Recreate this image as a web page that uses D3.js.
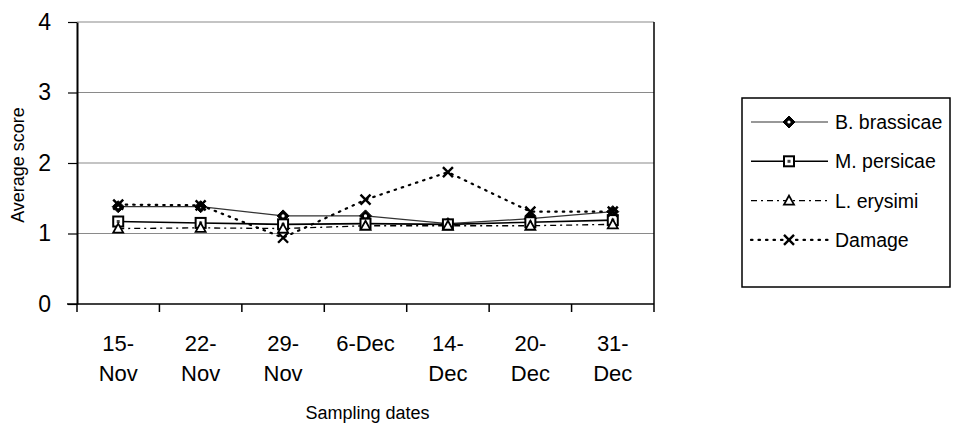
<!DOCTYPE html>
<html>
<head>
<meta charset="utf-8">
<script src="https://cdn.jsdelivr.net/npm/d3@7"></script>
<style>
  html, body { margin: 0; padding: 0; background: #fff; }
  svg { display: block; font-family: "Liberation Sans", Arial, sans-serif; }
</style>
</head>
<body>
<svg id="chart" width="958" height="434"></svg>
<script>
// Sampling dates (two-line labels) and average scores per series
const dates = ["15-Nov", "22-Nov", "29-Nov", "6-Dec", "14-Dec", "20-Dec", "31-Dec"];
const dateLines = [["15-", "Nov"], ["22-", "Nov"], ["29-", "Nov"], ["6-Dec"], ["14-", "Dec"], ["20-", "Dec"], ["31-", "Dec"]];
const brassicae = [1.38, 1.38, 1.25, 1.25, 1.14, 1.21, 1.31];
const persicae  = [1.17, 1.15, 1.13, 1.14, 1.13, 1.16, 1.19];
const erysimi   = [1.07, 1.08, 1.07, 1.11, 1.11, 1.11, 1.13];
const damage    = [1.41, 1.40, 0.94, 1.48, 1.87, 1.31, 1.31];
const yTicks = [0, 1, 2, 3, 4];

const series = [
  { name: "B. brassicae", values: brassicae, marker: "diamond", width: 1.2, dash: null, color: "#333" },
  { name: "M. persicae",  values: persicae,  marker: "square",  width: 1.6, dash: null, color: "#000" },
  { name: "L. erysimi",   values: erysimi,   marker: "triangle", width: 1.3, dash: "6,4,2,4", color: "#000" },
  { name: "Damage",       values: damage,    marker: "x",       width: 2.2, dash: "1.5,6", color: "#000" }
];

const svg = d3.select("#chart");
const plotL = 77, plotR = 654, plotT = 22, plotB = 304;

const x = d3.scaleBand().domain(dates).range([plotL, plotR]);
const y = d3.scaleLinear().domain([0, 4]).range([plotB, plotT]);
const cx = d => x(d) + x.bandwidth() / 2;

// Horizontal gridlines
svg.append("g").selectAll("line").data(yTicks.filter(d => d > 0)).join("line")
  .attr("x1", plotL).attr("x2", plotR)
  .attr("y1", d => y(d)).attr("y2", d => y(d))
  .attr("stroke", "#8a8a8a").attr("stroke-width", 1.2);

// Right border of the plot area
svg.append("line").attr("x1", plotR).attr("x2", plotR).attr("y1", plotT).attr("y2", plotB)
  .attr("stroke", "#000").attr("stroke-width", 1.5);

// Y axis
const yAxis = svg.append("g").attr("transform", `translate(${plotL},0)`)
  .call(d3.axisLeft(y).tickValues(yTicks).tickFormat(d3.format("d"))
    .tickSizeInner(9).tickSizeOuter(0).tickPadding(17));
yAxis.select(".domain").attr("stroke-width", 2);
yAxis.selectAll(".tick line").attr("stroke-width", 1.2);
yAxis.selectAll("text").attr("font-size", 23).attr("fill", "#000");

// X axis (ticks between categories)
const xAxis = svg.append("g").attr("transform", `translate(0,${plotB})`);
xAxis.append("line").attr("x1", plotL - 10).attr("x2", plotR).attr("stroke", "#000").attr("stroke-width", 1.5);
const boundaries = dates.map(d => x(d)).concat([plotR]);
xAxis.selectAll("line.tk").data(boundaries).join("line").attr("class", "tk")
  .attr("x1", d => d).attr("x2", d => d).attr("y1", 0).attr("y2", 8)
  .attr("stroke", "#000").attr("stroke-width", 1.5);
xAxis.selectAll("text.lbl").data(dates).join("text").attr("class", "lbl")
  .attr("text-anchor", "middle").attr("font-size", 22)
  .each(function(d, i) {
    d3.select(this).selectAll("tspan").data(dateLines[i]).join("tspan")
      .attr("x", cx(d))
      .attr("y", (t, j) => 47 + j * 30)
      .text(t => t);
  });

// Axis titles
svg.append("text").attr("x", (plotL + plotR) / 2 + 2).attr("y", 419)
  .attr("text-anchor", "middle").attr("font-size", 18).text("Sampling dates");
svg.append("text").attr("transform", `translate(24,${(plotT + plotB) / 2 + 2}) rotate(-90)`)
  .attr("text-anchor", "middle").attr("font-size", 18).text("Average score");

// Marker drawing
function drawMarker(g, type, mx, my) {
  const s = 5;
  if (type === "diamond") {
    g.append("path").attr("d", `M${mx},${my - s - 1}L${mx + s + 1},${my}L${mx},${my + s + 1}L${mx - s - 1},${my}Z`)
      .attr("fill", "#000").attr("stroke", "#000");
    g.append("circle").attr("cx", mx).attr("cy", my).attr("r", 1.6).attr("fill", "#fff");
  } else if (type === "square") {
    g.append("rect").attr("x", mx - s).attr("y", my - s).attr("width", 2 * s).attr("height", 2 * s)
      .attr("fill", "#fff").attr("stroke", "#000").attr("stroke-width", 2);
    g.append("rect").attr("x", mx - 1.5).attr("y", my - 1.5).attr("width", 3).attr("height", 3).attr("fill", "#444");
  } else if (type === "triangle") {
    g.append("path").attr("d", `M${mx},${my - s}L${mx + s},${my + s - 1}L${mx - s},${my + s - 1}Z`)
      .attr("fill", "#fff").attr("stroke", "#000").attr("stroke-width", 1.8);
  } else {
    g.append("path").attr("d", `M${mx - s},${my - s}L${mx + s},${my + s}M${mx + s},${my - s}L${mx - s},${my + s}`)
      .attr("stroke", "#000").attr("stroke-width", 2.4).attr("fill", "none");
  }
}

const line = d3.line().x((d, i) => cx(dates[i])).y(d => y(d));

// Series lines then markers
series.forEach(s => {
  svg.append("path").datum(s.values).attr("d", line)
    .attr("fill", "none").attr("stroke", s.color).attr("stroke-width", s.width)
    .attr("stroke-dasharray", s.dash).attr("stroke-linecap", s.marker === "x" ? "round" : "butt");
});
series.forEach(s => {
  const g = svg.append("g");
  s.values.forEach((v, i) => drawMarker(g, s.marker, cx(dates[i]), y(v)));
});

// Legend
const lg = svg.append("g");
lg.append("rect").attr("x", 742).attr("y", 98).attr("width", 208).attr("height", 189)
  .attr("fill", "#fff").attr("stroke", "#000").attr("stroke-width", 1.5);
series.forEach((s, i) => {
  const ly = 122 + i * 39.3;
  lg.append("line").attr("x1", 751).attr("x2", 828).attr("y1", ly).attr("y2", ly)
    .attr("stroke", s.color).attr("stroke-width", s.width).attr("stroke-dasharray", s.dash)
    .attr("stroke-linecap", s.marker === "x" ? "round" : "butt");
  drawMarker(lg, s.marker, 789, ly);
  lg.append("text").attr("x", 835).attr("y", ly + 7).attr("font-size", 19.5).text(s.name);
});
</script>
</body>
</html>
